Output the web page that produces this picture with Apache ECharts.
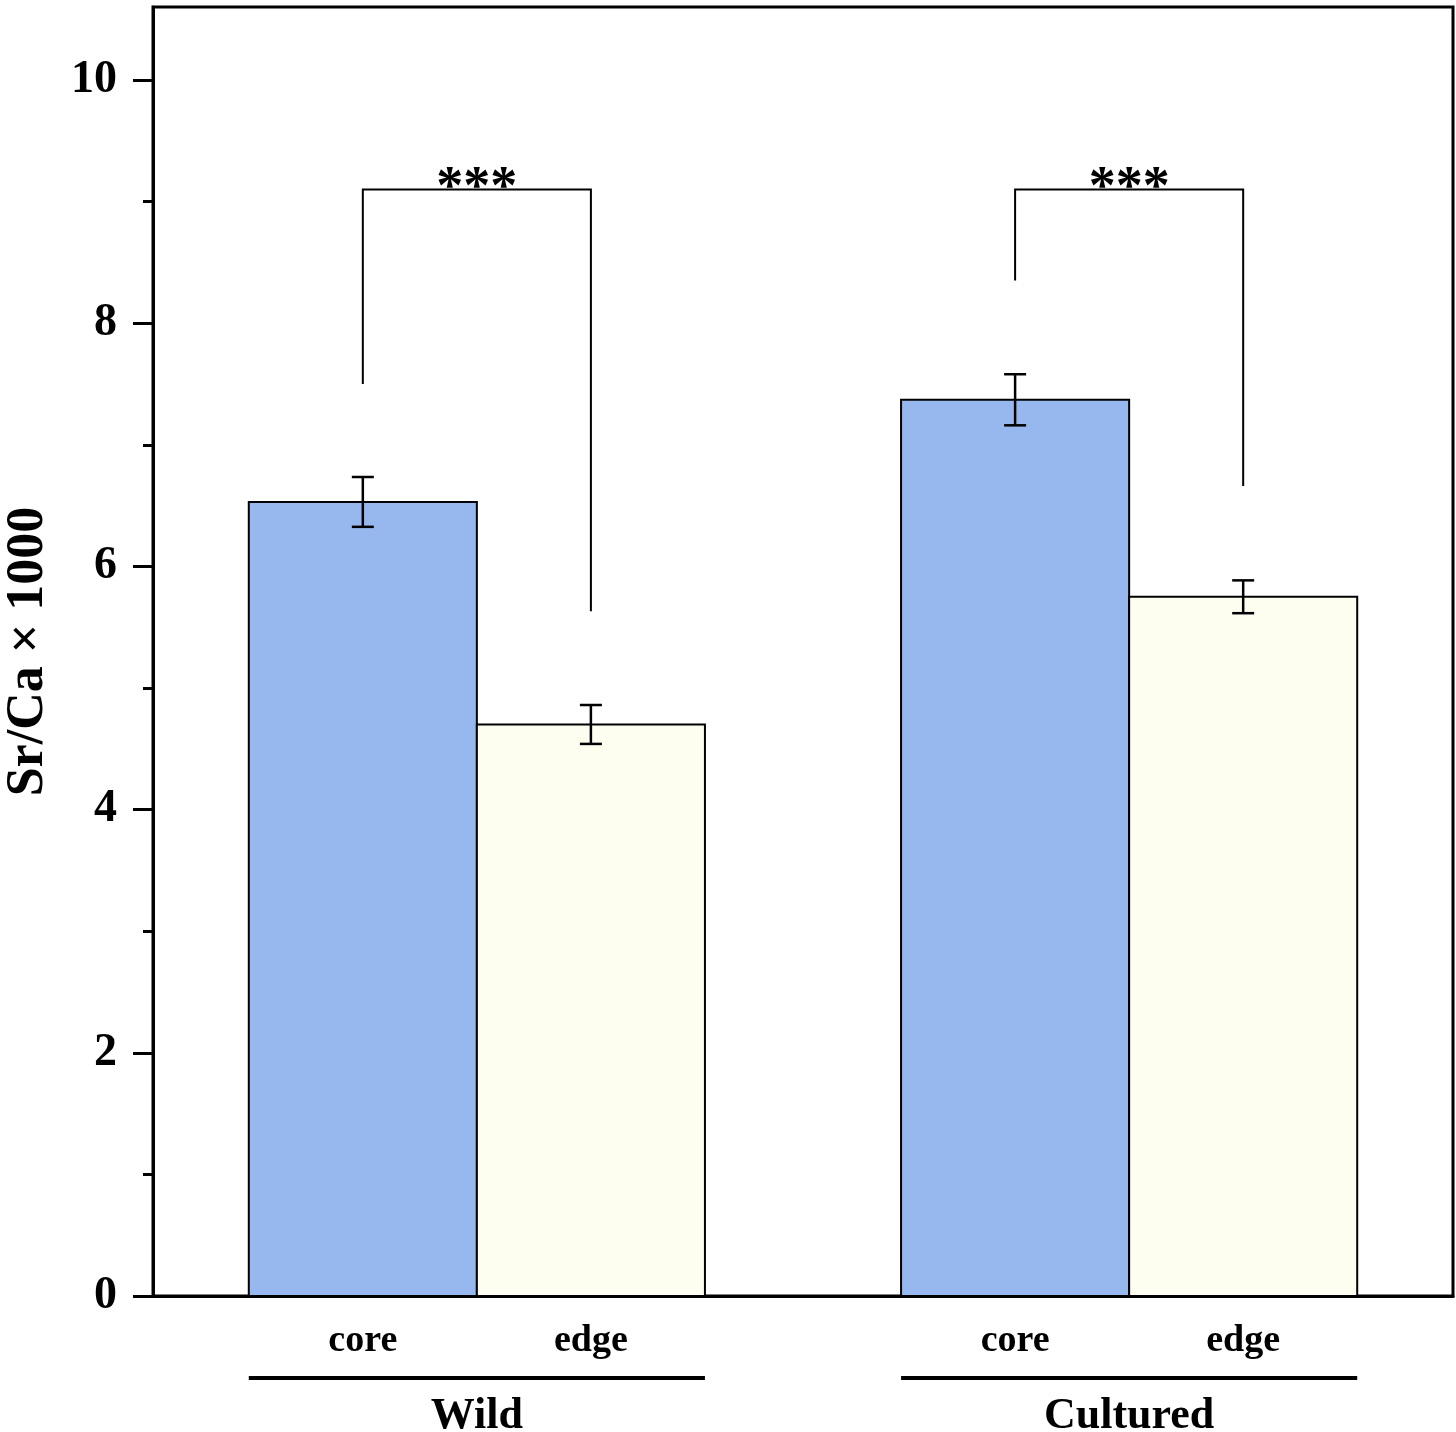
<!DOCTYPE html>
<html>
<head>
<meta charset="utf-8">
<script src="https://cdn.jsdelivr.net/npm/echarts@6/dist/echarts.min.js"></script>
<style>
  html, body { margin: 0; padding: 0; background: #fff; }
  #main { width: 1456px; height: 1432px; }
</style>
</head>
<body>
<div id="main"></div>
<script>
// data
var groups = ['Wild', 'Cultured'];
var parts = ['core', 'edge', 'core', 'edge'];
var barX = [0.92, 1.92, 3.78, 4.78];      // bar centres on the x value axis
var meanVals = [6.53, 4.70, 7.37, 5.75];
var errVals = [0.205, 0.16, 0.21, 0.135];
var sigMarks = ['***', '***'];
var bracketTop = [9.1, 9.1];
var bracketLeft = [7.5, 8.35];
var bracketRight = [5.63, 6.66];
var majorTicks = [0, 2, 4, 6, 8, 10];
var minorTicks = [1, 3, 5, 7, 9];

var FONT = '"Liberation Serif", "Times New Roman", serif';
var barColors = ['#97b8ee', '#fefef0'];

var myChart = echarts.init(document.getElementById('main'));

var barData = barX.map(function (x, i) { return [x, meanVals[i], errVals[i]]; });
var bracketData = groups.map(function (g, i) {
    return [barX[i * 2], barX[i * 2 + 1], bracketLeft[i], bracketRight[i], bracketTop[i]];
});
var groupData = groups.map(function (g, i) { return [barX[i * 2], barX[i * 2 + 1]]; });

var option = {
    animation: false,
    backgroundColor: '#fff',
    grid: {
        left: 153, right: 3, top: 7, bottom: 136,
        outerBoundsMode: 'none',
        containLabel: false,
        show: true, borderColor: '#000', borderWidth: 3,
        backgroundColor: 'transparent'
    },
    xAxis: {
        type: 'value', min: 0, max: 5.7,
        axisLine: { show: true, lineStyle: { color: '#000', width: 3 } },
        axisTick: { show: false },
        axisLabel: { show: false },
        splitLine: { show: false }
    },
    yAxis: [{
        type: 'value', min: 0, max: 10.6, interval: 2,
        name: 'Sr/Ca × 1000',
        nameLocation: 'middle',
        nameGap: 98,
        nameTextStyle: { fontFamily: FONT, fontWeight: 'bold', fontSize: 52, color: '#000' },
        axisLine: { show: true, lineStyle: { color: '#000', width: 3 } },
        axisTick: { show: true, inside: false, length: 20, customValues: majorTicks, lineStyle: { color: '#000', width: 3 } },
        axisLabel: { customValues: majorTicks, margin: 36, fontFamily: FONT, fontWeight: 'bold', fontSize: 46, color: '#000' },
        splitLine: { show: false }
    }, {
        type: 'value', min: 0, max: 10.6, position: 'left',
        axisLine: { show: false },
        axisTick: { show: true, length: 10, customValues: minorTicks, lineStyle: { color: '#000', width: 3 } },
        axisLabel: { show: false },
        splitLine: { show: false }
    }],
    series: [{
        // bars
        type: 'custom',
        data: barData,
        renderItem: function (params, api) {
            var x = api.value(0), y = api.value(1);
            var p0 = api.coord([x - 0.5, 0]);
            var p1 = api.coord([x + 0.5, y]);
            return {
                type: 'rect',
                shape: { x: p0[0], y: p1[1], width: p1[0] - p0[0], height: p0[1] - p1[1] },
                style: { fill: barColors[params.dataIndex % 2], stroke: '#000', lineWidth: 2 }
            };
        }
    }, {
        // error bars
        type: 'custom',
        data: barData,
        z: 3,
        renderItem: function (params, api) {
            var x = api.value(0), y = api.value(1), e = api.value(2);
            var hi = api.coord([x, y + e]);
            var lo = api.coord([x, y - e]);
            var st = { stroke: '#000', lineWidth: 2.5 };
            return {
                type: 'group',
                children: [
                    { type: 'line', shape: { x1: hi[0], y1: hi[1], x2: lo[0], y2: lo[1] }, style: st },
                    { type: 'line', shape: { x1: hi[0] - 11, y1: hi[1], x2: hi[0] + 11, y2: hi[1] }, style: st },
                    { type: 'line', shape: { x1: lo[0] - 11, y1: lo[1], x2: lo[0] + 11, y2: lo[1] }, style: st }
                ]
            };
        }
    }, {
        // significance brackets
        type: 'custom',
        data: bracketData,
        z: 3,
        renderItem: function (params, api) {
            var a = api.coord([api.value(0), api.value(2)]);
            var b = api.coord([api.value(0), api.value(4)]);
            var c = api.coord([api.value(1), api.value(4)]);
            var d = api.coord([api.value(1), api.value(3)]);
            return {
                type: 'group',
                children: [
                    { type: 'polyline', shape: { points: [a, b, c, d] }, style: { stroke: '#000', lineWidth: 2, fill: null } },
                    {
                        type: 'text',
                        style: {
                            text: sigMarks[params.dataIndex], x: (b[0] + c[0]) / 2, y: b[1] + 27,
                            align: 'center', verticalAlign: 'bottom',
                            font: 'bold 54px ' + FONT, fill: '#000'
                        }
                    }
                ]
            };
        }
    }, {
        // core / edge labels under each bar
        type: 'custom',
        data: barData,
        clip: false,
        renderItem: function (params, api) {
            var p = api.coord([api.value(0), 0]);
            return {
                type: 'text',
                style: {
                    text: parts[params.dataIndex], x: p[0], y: p[1] + 45,
                    align: 'center', verticalAlign: 'middle',
                    font: 'bold 38px ' + FONT, fill: '#000'
                }
            };
        }
    }, {
        // group underline and name
        type: 'custom',
        data: groupData,
        clip: false,
        renderItem: function (params, api) {
            var l = api.coord([api.value(0) - 0.5, 0]);
            var r = api.coord([api.value(1) + 0.5, 0]);
            return {
                type: 'group',
                children: [
                    { type: 'line', shape: { x1: l[0], y1: l[1] + 82, x2: r[0], y2: r[1] + 82 }, style: { stroke: '#000', lineWidth: 4 } },
                    {
                        type: 'text',
                        style: {
                            text: groups[params.dataIndex], x: (l[0] + r[0]) / 2, y: l[1] + 121,
                            align: 'center', verticalAlign: 'middle',
                            font: 'bold 44px ' + FONT, fill: '#000'
                        }
                    }
                ]
            };
        }
    }]
};

myChart.setOption(option);
</script>
</body>
</html>
